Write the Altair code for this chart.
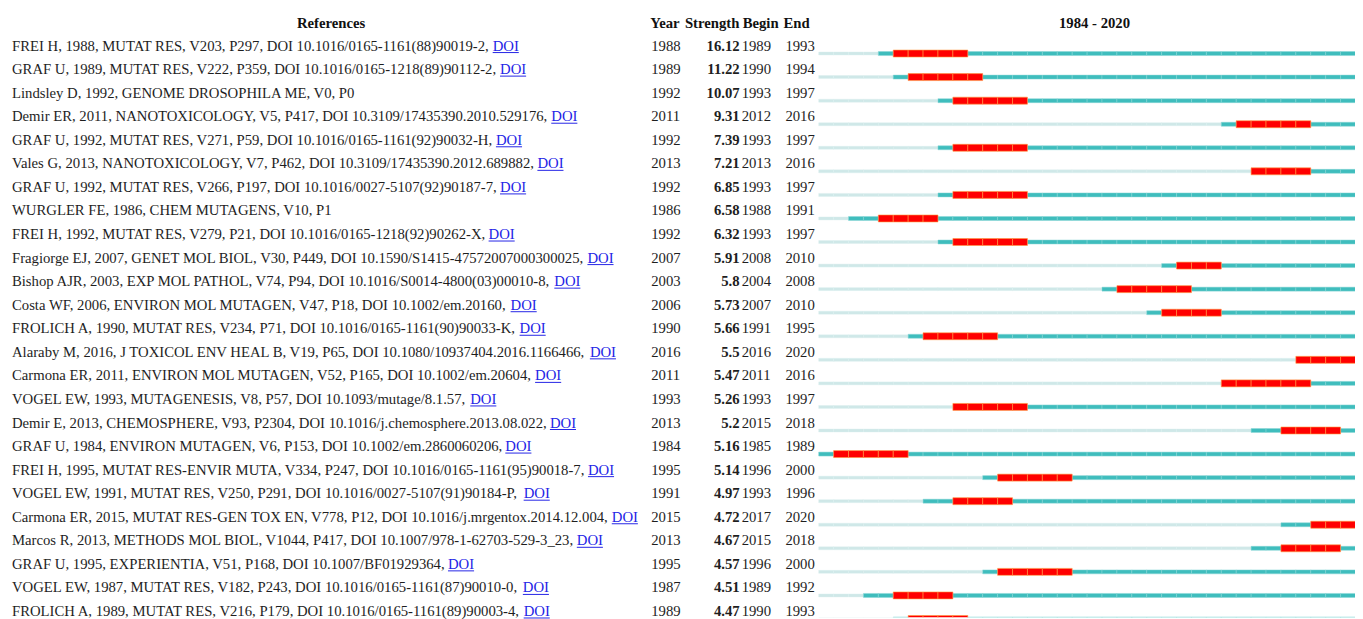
import altair as alt
import pandas as pd

# ---------------- data ----------------
references = [
    "FREI H, 1988, MUTAT RES, V203, P297, DOI 10.1016/0165-1161(88)90019-2",
    "GRAF U, 1989, MUTAT RES, V222, P359, DOI 10.1016/0165-1218(89)90112-2",
    "Lindsley D, 1992, GENOME DROSOPHILA ME, V0, P0",
    "Demir ER, 2011, NANOTOXICOLOGY, V5, P417, DOI 10.3109/17435390.2010.529176",
    "GRAF U, 1992, MUTAT RES, V271, P59, DOI 10.1016/0165-1161(92)90032-H",
    "Vales G, 2013, NANOTOXICOLOGY, V7, P462, DOI 10.3109/17435390.2012.689882",
    "GRAF U, 1992, MUTAT RES, V266, P197, DOI 10.1016/0027-5107(92)90187-7",
    "WURGLER FE, 1986, CHEM MUTAGENS, V10, P1",
    "FREI H, 1992, MUTAT RES, V279, P21, DOI 10.1016/0165-1218(92)90262-X",
    "Fragiorge EJ, 2007, GENET MOL BIOL, V30, P449, DOI 10.1590/S1415-47572007000300025",
    "Bishop AJR, 2003, EXP MOL PATHOL, V74, P94, DOI 10.1016/S0014-4800(03)00010-8",
    "Costa WF, 2006, ENVIRON MOL MUTAGEN, V47, P18, DOI 10.1002/em.20160",
    "FROLICH A, 1990, MUTAT RES, V234, P71, DOI 10.1016/0165-1161(90)90033-K",
    "Alaraby M, 2016, J TOXICOL ENV HEAL B, V19, P65, DOI 10.1080/10937404.2016.1166466",
    "Carmona ER, 2011, ENVIRON MOL MUTAGEN, V52, P165, DOI 10.1002/em.20604",
    "VOGEL EW, 1993, MUTAGENESIS, V8, P57, DOI 10.1093/mutage/8.1.57",
    "Demir E, 2013, CHEMOSPHERE, V93, P2304, DOI 10.1016/j.chemosphere.2013.08.022",
    "GRAF U, 1984, ENVIRON MUTAGEN, V6, P153, DOI 10.1002/em.2860060206",
    "FREI H, 1995, MUTAT RES-ENVIR MUTA, V334, P247, DOI 10.1016/0165-1161(95)90018-7",
    "VOGEL EW, 1991, MUTAT RES, V250, P291, DOI 10.1016/0027-5107(91)90184-P",
    "Carmona ER, 2015, MUTAT RES-GEN TOX EN, V778, P12, DOI 10.1016/j.mrgentox.2014.12.004",
    "Marcos R, 2013, METHODS MOL BIOL, V1044, P417, DOI 10.1007/978-1-62703-529-3_23",
    "GRAF U, 1995, EXPERIENTIA, V51, P168, DOI 10.1007/BF01929364",
    "VOGEL EW, 1987, MUTAT RES, V182, P243, DOI 10.1016/0165-1161(87)90010-0",
    "FROLICH A, 1989, MUTAT RES, V216, P179, DOI 10.1016/0165-1161(89)90003-4",
]
has_doi = [True, True, False, True, True, True, True, False, True, True,
           True, True, True, True, True, True, True, True, True, True,
           True, True, True, True, True]
pub_years = [1988, 1989, 1992, 2011, 1992, 2013, 1992, 1986, 1992, 2007,
             2003, 2006, 1990, 2016, 2011, 1993, 2013, 1984, 1995, 1991,
             2015, 2013, 1995, 1987, 1989]
strengths = ["16.12", "11.22", "10.07", "9.31", "7.39", "7.21", "6.85", "6.58",
             "6.32", "5.91", "5.8", "5.73", "5.66", "5.5", "5.47", "5.26",
             "5.2", "5.16", "5.14", "4.97", "4.72", "4.67", "4.57", "4.51", "4.47"]
begins = [1989, 1990, 1993, 2012, 1993, 2013, 1993, 1988, 1993, 2008,
          2004, 2007, 1991, 2016, 2011, 1993, 2015, 1985, 1996, 1993,
          2017, 2015, 1996, 1989, 1990]
ends = [1993, 1994, 1997, 2016, 1997, 2016, 1997, 1991, 1997, 2010,
        2008, 2010, 1995, 2020, 2016, 1997, 2018, 1989, 2000, 1996,
        2020, 2018, 2000, 1992, 1993]
first_year, last_year = 1984, 2020

# ---------------- layout constants ----------------
FONT = "Liberation Serif"
FS = 14.8
ROW_H = 23.7
TEXT_Y0 = 37.0
BAR_OFF = 7.0
LEFT_X = 4.0
TL_X0, YEAR_PX = 815.5, 15.0
BLUE = "#2424e6"
INK = "#1e1e1e"
RENDER_K = 0.998

# Times / Liberation Serif advance widths and main kerning pairs (1/1000 em)
W = {' ': 250, ',': 250, '.': 250, '/': 278, '-': 333, '(': 333, ')': 333, '_': 500,
     'A': 722, 'B': 667, 'C': 667, 'D': 722, 'E': 611, 'F': 556, 'G': 722, 'H': 722,
     'I': 333, 'J': 389, 'K': 722, 'L': 611, 'M': 889, 'N': 722, 'O': 722, 'P': 556,
     'Q': 722, 'R': 667, 'S': 556, 'T': 611, 'U': 722, 'V': 722, 'W': 944, 'X': 722,
     'Y': 722, 'Z': 611,
     'a': 444, 'b': 500, 'c': 444, 'd': 500, 'e': 444, 'f': 333, 'g': 500, 'h': 500,
     'i': 278, 'j': 278, 'k': 500, 'l': 278, 'm': 778, 'n': 500, 'o': 500, 'p': 500,
     'q': 500, 'r': 333, 's': 389, 't': 278, 'u': 500, 'v': 500, 'w': 722, 'x': 500,
     'y': 500, 'z': 444}
KERN = {"AT": -111, "TA": -93, "PA": -92, "Va": -111, "Y,": -129}


def tw(s):
    units = sum(W.get(c, 500) for c in s)
    units += sum(KERN.get(s[j:j + 2], 0) for j in range(len(s) - 1))
    return units * FS / 1000.0 * RENDER_K


rows = []
for i, ref in enumerate(references):
    d = has_doi[i]
    dx = LEFT_X + tw(ref + ", ")
    rows.append(dict(
        row=i, label=ref + ("," if d else ""), doi="DOI" if d else "",
        doi_x=dx, doi_x2=dx + tw("DOI"),
        year=str(pub_years[i]), strength=strengths[i],
        begin=str(begins[i]), end=str(ends[i])))
tab = pd.DataFrame(rows)
doi_tab = tab[tab["doi"] != ""]

cells = []
for i in range(len(references)):
    for yr in range(first_year, last_year + 1):
        if yr < pub_years[i]:
            cat = "pre"
        elif begins[i] <= yr <= ends[i]:
            cat = "burst"
        else:
            cat = "post"
        cells.append(dict(row=i, yr=yr, yr2=yr + 1, cat=cat))
cells = pd.DataFrame(cells)

yscale = alt.Scale(domain=[0, 25], range=[TEXT_Y0, TEXT_Y0 + 25 * ROW_H])
xscale = alt.Scale(domain=[first_year, last_year + 1],
                   range=[TL_X0, TL_X0 + (last_year + 1 - first_year) * YEAR_PX])
Y = alt.Y("row:Q", scale=yscale, axis=None)


def band(cat, h, fill, stroke, sw):
    lo = (BAR_OFF - h / 2) / ROW_H
    hi = (BAR_OFF + h / 2) / ROW_H
    return alt.Chart(cells).transform_filter(
        alt.datum.cat == cat
    ).transform_calculate(
        y1=f"datum.row + {lo}", y2=f"datum.row + {hi}"
    ).mark_rect(fill=fill, stroke=stroke, strokeWidth=sw, clip=True).encode(
        x=alt.X("yr:Q", scale=xscale, axis=None),
        x2="yr2:Q",
        y=alt.Y("y1:Q", scale=yscale, axis=None),
        y2="y2:Q",
    )


pre = band("pre", 3, "#cfe8e8", "#dcefef", 0.4)
post = band("post", 4, "#3fbdbd", "#8ad6d6", 0.5)
burst = band("burst", 7, "#ff0000", "#ff9a40", 0.6)


def txt(df, field, x, align="left", color=INK, weight="normal"):
    return alt.Chart(df).mark_text(
        align=align, baseline="middle", font=FONT, fontSize=FS,
        fontWeight=weight, color=color
    ).encode(x=alt.value(x), y=Y, text=f"{field}:N")


ref_txt = txt(tab, "label", LEFT_X)
doi_txt = alt.Chart(doi_tab).mark_text(
    align="left", baseline="middle", font=FONT, fontSize=FS, color=BLUE
).encode(x=alt.X("doi_x:Q", scale=None), y=Y, text="doi:N")
doi_line = alt.Chart(doi_tab).mark_rule(color=BLUE, strokeWidth=1, yOffset=6).encode(
    x=alt.X("doi_x:Q", scale=None), x2="doi_x2:Q", y=Y)

year_txt = txt(tab, "year", 647)
str_txt = txt(tab, "strength", 736, align="right", weight="bold")
beg_txt = txt(tab, "begin", 738)
end_txt = txt(tab, "end", 782)


def header(t, x, align):
    return alt.Chart(tab.head(1)).mark_text(
        align=align, font=FONT, fontSize=FS, fontWeight="bold",
        baseline="middle", color="#111111"
    ).encode(x=alt.value(x), y=alt.value(14), text=alt.value(t))


headers = [
    header("References", 325, "center"),
    header("Year", 646, "left"),
    header("Strength", 735.7, "right"),
    header("Begin", 739, "left"),
    header("End", 780, "left"),
    header(f"{first_year} - {last_year}", 1093, "center"),
]

chart = alt.layer(
    pre, post, burst, ref_txt, doi_txt, doi_line,
    year_txt, str_txt, beg_txt, end_txt, *headers
).properties(
    width=1355, height=611, padding=0,
    autosize=alt.AutoSizeParams(type="none"),
).configure_view(stroke=None)

chart.save("out.html", embed_options={"renderer": "svg", "actions": False})
